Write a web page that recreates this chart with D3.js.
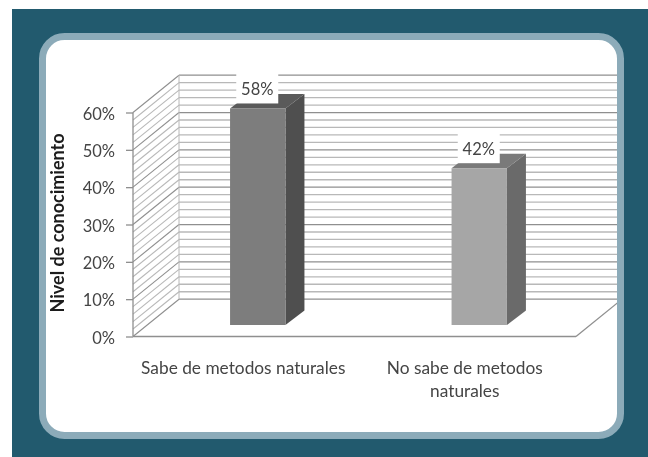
<!DOCTYPE html>
<html lang="es">
<head>
<meta charset="UTF-8">
<title>Nivel de conocimiento</title>
<script src="https://d3js.org/d3.v7.min.js"></script>
<style>
  html, body { margin: 0; padding: 0; background: #fff; }
  svg { display: block; }
  text { font-family: Lato, "Open Sans", sans-serif; fill: #444; }
</style>
</head>
<body>
<script>
// datos
const categories = ["Sabe de metodos naturales", "No sabe de metodos naturales"];
const categoryLines = [["Sabe de metodos naturales"], ["No sabe de metodos", "naturales"]];
const values = [58, 42];
const majorTicks = [0, 10, 20, 30, 40, 50, 60];
const minorTicks = d3.range(0, 61, 2);
const frontColors = ["#7d7d7d", "#a6a6a6"];
const sideColors = ["#4f4f4f", "#6b6b6b"];
const topColors = ["#5a5a5a", "#7a7a7a"];

const width = 648, height = 457;
const root = d3.select("body").append("svg").attr("width", width).attr("height", height);

// la referencia esta un poco desenfocada
root.append("filter").attr("id", "soft")
  .attr("filterUnits", "userSpaceOnUse").attr("x", 0).attr("y", 0).attr("width", width).attr("height", height)
  .append("feGaussianBlur").attr("stdDeviation", 0.45);

const svg = root.append("g").attr("filter", "url(#soft)");

// fondo y tarjeta
svg.append("rect").attr("x", 12).attr("y", 9).attr("width", width - 12 + 5).attr("height", height - 9 + 5).attr("fill", "#215a6e");
svg.append("rect").attr("x", 42.5).attr("y", 36.5).attr("width", 578).attr("height", 399)
  .attr("rx", 22).attr("fill", "#fff").attr("stroke", "#8cabb9").attr("stroke-width", 7);

root.append("clipPath").attr("id", "card").append("rect")
  .attr("x", 46).attr("y", 40).attr("width", 571).attr("height", 392).attr("rx", 18);

const x = d3.scaleBand().domain(categories).range([133, 576]);
const y = d3.scaleLinear().domain([0, 60]).range([336.5, 112.5]);

// profundidad 3D
const wallDx = 46, wallDy = 37.3;
const barDx = 14, barDy = 11.5, barDepthX = 19, barDepthY = 14.5;
const barWidth = x.bandwidth() / 4;
const majorColor = "#8f8f8f", minorColor = "#b8b8b8";

const plot = svg.append("g").attr("clip-path", "url(#card)");

// lineas de pared trasera y lateral
plot.selectAll("line.back").data(minorTicks).join("line")
  .attr("class", "back")
  .attr("x1", x.range()[0] + wallDx).attr("x2", 640)
  .attr("y1", d => y(d) - wallDy).attr("y2", d => y(d) - wallDy)
  .attr("stroke", d => d % 10 === 0 ? majorColor : minorColor)
  .attr("stroke-width", 1.3);

plot.selectAll("line.side").data(minorTicks).join("line")
  .attr("class", "side")
  .attr("x1", x.range()[0]).attr("x2", x.range()[0] + wallDx)
  .attr("y1", d => y(d)).attr("y2", d => y(d) - wallDy)
  .attr("stroke", d => d % 10 === 0 ? majorColor : minorColor)
  .attr("stroke-width", 1.1);

// arista trasera y suelo
plot.append("line").attr("x1", x.range()[0] + wallDx).attr("x2", x.range()[0] + wallDx)
  .attr("y1", y(60) - wallDy).attr("y2", y(0) - wallDy).attr("stroke", minorColor);
plot.append("line").attr("x1", x.range()[1]).attr("x2", x.range()[1] + wallDx)
  .attr("y1", y(0)).attr("y2", y(0) - wallDy).attr("stroke", majorColor).attr("stroke-width", 1.3);
plot.append("line").attr("x1", x.range()[0]).attr("x2", x.range()[1])
  .attr("y1", y(0)).attr("y2", y(0)).attr("stroke", majorColor).attr("stroke-width", 1.3);
plot.append("line").attr("x1", x.range()[0]).attr("x2", x.range()[0])
  .attr("y1", y(0)).attr("y2", y(60)).attr("stroke", majorColor).attr("stroke-width", 1.3);

// eje y
const yAxis = svg.append("g").attr("transform", `translate(${x.range()[0]},0)`)
  .call(d3.axisLeft(y).tickValues(majorTicks).tickSize(7).tickPadding(11).tickFormat(d => d + "%"));
yAxis.select(".domain").remove();
yAxis.selectAll("line").attr("stroke", majorColor).attr("stroke-width", 1.3);
yAxis.selectAll("text").attr("font-size", 16.5).attr("fill", "#444").attr("y", 1.5);

// barras
const bars = plot.selectAll("g.bar").data(categories).join("g").attr("class", "bar")
  .attr("transform", c => `translate(${x(c) + x.bandwidth() / 2 + barDx - barWidth / 2},${y(0) - barDy})`);

const barH = i => y(0) - y(values[i]);
bars.append("path")
  .attr("fill", (c, i) => sideColors[i])
  .attr("d", (c, i) => `M${barWidth},0 L${barWidth + barDepthX},${-barDepthY} L${barWidth + barDepthX},${-barH(i) - barDepthY} L${barWidth},${-barH(i)} Z`);
bars.append("path")
  .attr("fill", (c, i) => topColors[i])
  .attr("d", (c, i) => `M0,${-barH(i)} L${barDepthX},${-barH(i) - barDepthY} L${barWidth + barDepthX},${-barH(i) - barDepthY} L${barWidth},${-barH(i)} Z`);
bars.append("rect")
  .attr("y", (c, i) => -barH(i)).attr("width", barWidth).attr("height", (c, i) => barH(i))
  .attr("fill", (c, i) => frontColors[i]);

// etiquetas de valor con caja blanca
const labelW = 42, labelH = 30;
const labels = svg.selectAll("g.value").data(categories).join("g").attr("class", "value")
  .attr("transform", (c, i) => `translate(${x(c) + x.bandwidth() / 2 + barDx - 0.5},${y(values[i]) - barDy - 5})`);
labels.append("rect").attr("x", -labelW / 2).attr("y", -labelH).attr("width", labelW).attr("height", labelH).attr("fill", "#fff");
labels.append("text").attr("text-anchor", "middle").attr("y", -8).attr("font-size", 16.5)
  .text((c, i) => values[i] + "%");

// categorias
const catLabels = svg.selectAll("text.cat").data(categories).join("text").attr("class", "cat")
  .attr("text-anchor", "middle").attr("font-size", 17.3)
  .attr("transform", c => `translate(${x(c) + x.bandwidth() / 2 - 0.5},374)`);
catLabels.selectAll("tspan").data((c, i) => categoryLines[i]).join("tspan")
  .attr("x", 0).attr("dy", (d, i) => i ? 23 : 0).text(d => d);

// titulo del eje
svg.append("text")
  .attr("transform", "translate(63.5,223) rotate(-90)")
  .attr("text-anchor", "middle").attr("font-size", 18).attr("font-weight", 700)
  .style("fill", "#1c1c1c")
  .text("Nivel de conocimiento");
</script>
</body>
</html>
